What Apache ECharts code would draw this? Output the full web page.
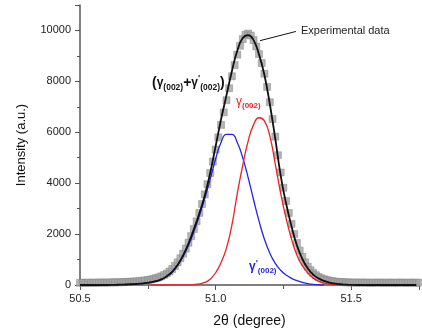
<!DOCTYPE html>
<html>
<head>
<meta charset="utf-8">
<script src="https://cdn.jsdelivr.net/npm/echarts@6/dist/echarts.min.js"></script>
<style>
html,body{margin:0;padding:0;background:#fff;}
#c{width:422px;height:335px;}
</style>
</head>
<body>
<div id="c"></div>
<script>
// Experimental data (2θ, intensity)
var expX = [50.50,50.51,50.52,50.53,50.54,50.55,50.56,50.57,50.58,50.59,
50.60,50.61,50.62,50.63,50.64,50.65,50.66,50.67,50.68,50.69,
50.70,50.71,50.72,50.73,50.74,50.75,50.76,50.77,50.78,50.79,
50.80,50.81,50.82,50.83,50.84,50.85,50.86,50.87,50.88,50.89,
50.90,50.91,50.92,50.93,50.94,50.95,50.96,50.97,50.98,50.99,
51.00,51.01,51.02,51.03,51.04,51.05,51.06,51.07,51.08,51.09,
51.10,51.11,51.12,51.13,51.14,51.15,51.16,51.17,51.18,51.19,
51.20,51.21,51.22,51.23,51.24,51.25,51.26,51.27,51.28,51.29,
51.30,51.31,51.32,51.33,51.34,51.35,51.36,51.37,51.38,51.39,
51.40,51.41,51.42,51.43,51.44,51.45,51.46,51.47,51.48,51.49,
51.50,51.51,51.52,51.53,51.54,51.55,51.56,51.57,51.58,51.59,
51.60,51.61,51.62,51.63,51.64,51.65,51.66,51.67,51.68,51.69,
51.70,51.71,51.72,51.73,51.74,51.75];
var expY = [85,90,80,95,90,85,95,90,100,95,
95,100,105,100,110,105,115,120,125,130,
135,145,155,165,180,195,215,240,270,300,
340,390,450,530,630,750,890,1050,1230,1430,
1660,1920,2200,2500,2830,3180,3560,3960,4400,4850,
5320,5800,6290,6780,7260,7730,8200,8640,9050,9400,
9660,9830,9880,9800,9620,9370,9070,8720,8300,7780,
7180,6520,5830,5100,4420,3820,3300,2830,2400,2000,
1650,1350,1100,890,720,580,470,385,315,265,
225,195,170,150,135,125,115,110,105,100,
95,100,90,95,100,90,95,85,90,95,
90,95,85,90,95,90,85,90,95,90,
85,90,95,85,90,90];

// Fitted sum (γ(002)+γ'(002))
var fitX = [50.50,50.52,50.54,50.56,50.58,50.60,50.62,50.64,50.66,50.68,
50.70,50.72,50.74,50.76,50.78,50.80,50.82,50.84,50.86,50.88,
50.90,50.92,50.94,50.96,50.98,51.00,51.02,51.04,51.06,51.08,
51.10,51.12,51.14,51.16,51.18,51.20,51.22,51.24,51.26,51.28,
51.30,51.32,51.34,51.36,51.38,51.40,51.42,51.44,51.46,51.48,
51.50,51.52,51.54,51.56,51.58,51.60,51.62,51.64,51.66,51.68,
51.70,51.72,51.74];
var fitY = [0,0,0,0,0,0,5,10,15,25,
35,50,75,105,150,220,345,520,790,1160,
1630,2200,2820,3520,4400,5450,6500,7450,8400,9200,
9700,9820,9620,9060,8250,7100,5750,4300,3200,2300,
1550,1020,650,410,260,160,95,55,30,15,
5,0,0,0,0,0,0,0,0,0,
0,0,0];

// γ'(002) component (blue)
var blueX = [50.60,50.62,50.64,50.66,50.68,50.70,50.72,50.74,50.76,50.78,
50.80,50.82,50.84,50.86,50.88,50.90,50.92,50.94,50.96,50.98,
51.00,51.02,51.04,51.06,51.08,51.10,51.12,51.14,51.16,51.18,
51.20,51.22,51.24,51.26,51.28,51.30,51.32,51.34,51.36,51.38,
51.40];
var blueY = [0,5,10,15,25,35,50,75,105,150,
220,340,510,770,1120,1560,2100,2720,3400,4150,
4950,5600,5920,5920,5600,5000,4220,3350,2520,1800,
1250,850,580,390,260,170,100,55,25,10,
0];

// γ(002) component (red)
var redX = [50.76,50.78,50.80,50.82,50.84,50.86,50.88,50.90,50.92,50.94,
50.96,50.98,51.00,51.02,51.04,51.06,51.08,51.10,51.12,51.14,
51.16,51.18,51.20,51.22,51.24,51.26,51.28,51.30,51.32,51.34,
51.36,51.38,51.40,51.42,51.44,51.46];
var redY = [0,0,0,0,0,1,3,6,15,40,
100,230,480,880,1450,2350,3600,4700,5650,6300,
6570,6450,5850,4750,3600,2620,1800,1170,760,470,
270,140,70,30,10,0];

function pairs(xs, ys){ return xs.map(function(x,i){ return [x, ys[i]]; }); }

var FONT = '"Liberation Sans", Arial, sans-serif';
var chart = echarts.init(document.getElementById('c'), null, {renderer:'canvas'});
chart.setOption({
  animation:false,
  backgroundColor:'#fff',
  grid:{left:80, right:0, top:5, bottom:50},
  xAxis:{
    type:'value', min:50.5, max:51.75, interval:0.5,
    name:'2θ (degree)', nameLocation:'middle', nameGap:29,
    nameTextStyle:{fontSize:14, color:'#111', fontFamily:FONT},
    axisLine:{onZero:false, lineStyle:{color:'#555', width:1.5}},
    axisTick:{show:true, length:5, lineStyle:{color:'#555'}},
    minorTick:{show:true, splitNumber:2, length:4, lineStyle:{color:'#555'}},
    splitLine:{show:false},
    axisLabel:{fontSize:11, color:'#222', fontFamily:FONT, margin:8,
      formatter:function(v){ return Math.abs(v*2-Math.round(v*2))<1e-6 ? v.toFixed(1) : ''; }}
  },
  yAxis:{
    type:'value', min:0, max:11000, interval:2000,
    name:'Intensity (a.u.)', nameLocation:'middle', nameGap:52,
    nameTextStyle:{fontSize:13, color:'#111', fontFamily:FONT},
    axisLine:{show:true, lineStyle:{color:'#555', width:1.5}},
    axisTick:{show:true, length:5, lineStyle:{color:'#555'}},
    minorTick:{show:true, splitNumber:2, length:3, lineStyle:{color:'#555'}},
    splitLine:{show:false},
    axisLabel:{fontSize:11, color:'#222', fontFamily:FONT, margin:9,
      formatter:function(v){ return v % 2000 === 0 ? String(v) : ''; }}
  },
  series:[
    {
      name:'Experimental data', type:'scatter', z:1,
      symbol:'rect', symbolSize:7,
      itemStyle:{color:'#a2a2a2', borderColor:'#7c7c7c', borderWidth:0.5},
      data:pairs(expX, expY),
      markLine:{
        silent:true, symbolSize:[0,7],
        lineStyle:{color:'#111', width:1, type:'solid'},
        label:{show:false},
        data:[[{coord:[51.296, 9960], symbol:'none'},{coord:[51.164, 9600], symbol:'arrow'}]]
      }
    },
    {
      name:"γ'(002)", type:'line', z:2, smooth:true, showSymbol:false,
      lineStyle:{color:'#2424f0', width:1.3}, itemStyle:{color:'#2424f0'},
      data:pairs(blueX, blueY)
    },
    {
      name:'γ(002)', type:'line', z:3, smooth:true, showSymbol:false,
      lineStyle:{color:'#f02020', width:1.3}, itemStyle:{color:'#f02020'},
      data:pairs(redX, redY)
    },
    {
      name:'fit', type:'line', z:4, smooth:true, showSymbol:false,
      lineStyle:{color:'#111', width:1.8}, itemStyle:{color:'#111'},
      data:pairs(fitX, fitY)
    }
  ],
  graphic:[
    {type:'text', left:301, top:25, z:10,
      style:{text:'Experimental data', fontSize:11, fill:'#222', fontFamily:FONT}},
    {type:'text', left:152, top:74, z:10,
      style:{text:"{p|(}{g|γ}{s|(002)}{p|+}{g|γ}{sp|'}{s|(002)}{p|)}", fill:'#111', fontFamily:FONT,
        rich:{
          p:{fontSize:14, fontWeight:'bold', lineHeight:18, fill:'#111', fontFamily:FONT},
          g:{fontSize:12, fontWeight:'bold', lineHeight:18, fill:'#111', fontFamily:FONT},
          s:{fontSize:8.5, fontWeight:'bold', lineHeight:8, verticalAlign:'bottom', fill:'#111', fontFamily:FONT},
          sp:{fontSize:9, fontWeight:'bold', lineHeight:8, verticalAlign:'top', fill:'#111', fontFamily:FONT}
        }}},
    {type:'text', left:236, top:96, z:10,
      style:{text:"{g|γ}{s|(002)}", fontFamily:FONT,
        rich:{
          g:{fontSize:12, lineHeight:16, fill:'#f02020', fontFamily:FONT},
          s:{fontSize:8, fontWeight:'bold', lineHeight:8, verticalAlign:'bottom', fill:'#f02020', fontFamily:FONT}
        }}},
    {type:'text', left:249, top:259, z:10,
      style:{text:"{g|γ}{sp|'}{s|(002)}", fontFamily:FONT,
        rich:{
          g:{fontSize:12, fontWeight:'bold', lineHeight:16, fill:'#2424f0', fontFamily:FONT},
          s:{fontSize:8, fontWeight:'bold', lineHeight:8, verticalAlign:'bottom', fill:'#2424f0', fontFamily:FONT},
          sp:{fontSize:9, fontWeight:'bold', lineHeight:8, verticalAlign:'top', fill:'#2424f0', fontFamily:FONT}
        }}}
  ]
});
</script>
</body>
</html>
